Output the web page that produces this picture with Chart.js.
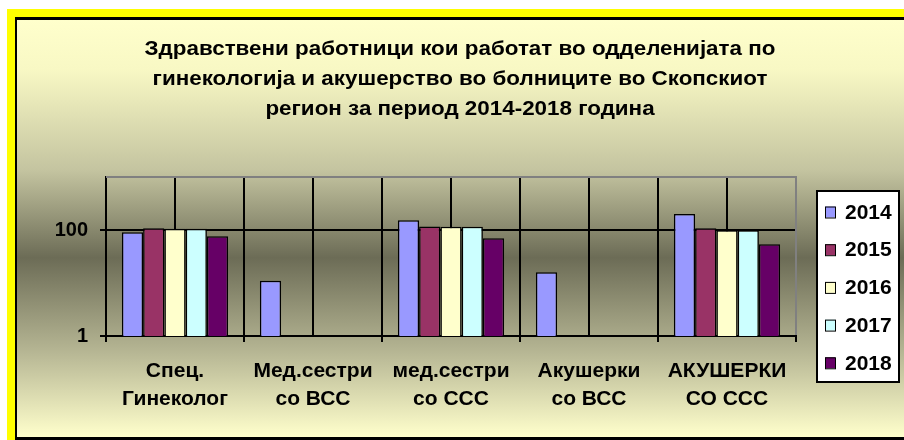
<!DOCTYPE html>
<html>
<head>
<meta charset="utf-8">
<script src="https://cdn.jsdelivr.net/npm/chart.js@4.4.1/dist/chart.umd.min.js"></script>
<style>
  body { margin: 0; background: #ffffff; }
  canvas { display: block; }
</style>
</head>
<body>
<canvas id="myChart" width="904" height="440"></canvas>
<script>
var titulo = [
  'Здравствени работници кои работат во одделенијата по',
  'гинекологија и акушерство во болниците во Скопскиот',
  'регион за период 2014-2018 година'
];
var categorias = [
  ['Спец.', 'Гинеколог'],
  ['Мед.сестри', 'со ВСС'],
  ['мед.сестри', 'со ССС'],
  ['Акушерки', 'со ВСС'],
  ['АКУШЕРКИ', 'СО ССС']
];
var anos = ['2014', '2015', '2016', '2017', '2018'];
var valores2014 = [91, 11, 152, 16, 200];
var valores2015 = [108, null, 117, null, 108];
var valores2016 = [106, null, 115, null, 99];
var valores2017 = [106, null, 115, null, 99];
var valores2018 = [76, null, 70, null, 54];
var ticksY = [1, 100];

var cores = ['#9999FF', '#993366', '#FFFFCC', '#CCFFFF', '#660066'];
var fonte = '"Liberation Sans", Arial, sans-serif';

// moldura amarela + fundo degradê
var fundoPlugin = {
  id: 'fundo',
  beforeDraw: function (chart) {
    var ctx = chart.ctx;
    ctx.save();
    ctx.fillStyle = '#ffffff';
    ctx.fillRect(0, 0, 904, 440);
    ctx.fillStyle = '#FFFF00';
    ctx.fillRect(7, 9, 897, 431);
    ctx.fillStyle = '#000000';
    ctx.fillRect(15, 17, 889, 423);
    var g = ctx.createLinearGradient(0, 20, 0, 437);
    g.addColorStop(0, '#FFFFCC');
    g.addColorStop(0.12, '#F8F8C4');
    g.addColorStop(0.36, '#C4C4A0');
    g.addColorStop(0.57, '#6C6C56');
    g.addColorStop(0.79, '#B4B492');
    g.addColorStop(1, '#FFFFCC');
    ctx.fillStyle = g;
    ctx.fillRect(17, 20, 887, 417);

    // titulo (texto um pouco esticado na horizontal, como no original)
    ctx.fillStyle = '#000000';
    ctx.font = 'bold 20px ' + fonte;
    ctx.textAlign = 'center';
    ctx.textBaseline = 'alphabetic';
    ctx.translate(460, 0);
    ctx.scale(1.12, 1);
    for (var i = 0; i < titulo.length; i++) {
      ctx.fillText(titulo[i], 0, 55 + i * 30);
    }
    ctx.restore();
  },
  beforeDatasetsDraw: function (chart) {
    // linhas verticais no meio de cada categoria
    var ctx = chart.ctx;
    var x = chart.scales.x;
    var area = chart.chartArea;
    ctx.save();
    ctx.strokeStyle = '#000000';
    ctx.lineWidth = 2;
    for (var i = 0; i < categorias.length; i++) {
      var px = Math.round(x.getPixelForValue(i));
      ctx.beginPath();
      ctx.moveTo(px, area.top);
      ctx.lineTo(px, area.bottom);
      ctx.stroke();
    }
    ctx.restore();
  },
  afterDraw: function (chart) {
    var ctx = chart.ctx;
    var area = chart.chartArea;
    ctx.save();
    // borda cinza da area do grafico
    ctx.strokeStyle = '#808080';
    ctx.lineWidth = 2;
    ctx.beginPath();
    ctx.moveTo(area.left, area.top);
    ctx.lineTo(area.right, area.top);
    ctx.lineTo(area.right, area.bottom - 1);
    ctx.stroke();

    // legenda
    ctx.fillStyle = '#ffffff';
    ctx.fillRect(817, 191, 82, 191);
    ctx.strokeStyle = '#000000';
    ctx.lineWidth = 2;
    ctx.strokeRect(817, 191, 82, 191);
    ctx.font = 'bold 21px ' + fonte;
    ctx.textAlign = 'left';
    ctx.textBaseline = 'middle';
    var ds = chart.data.datasets;
    for (var i = 0; i < ds.length; i++) {
      var cy = 212 + i * 37.7;
      ctx.fillStyle = ds[i].backgroundColor;
      ctx.fillRect(825, cy - 5.5, 10, 11);
      ctx.lineWidth = 1;
      ctx.strokeRect(825.5, cy - 5, 10, 11);
      ctx.fillStyle = '#000000';
      ctx.fillText(ds[i].label, 845, cy + 1);
    }
    ctx.restore();
  }
};

function montarDatasets() {
  var series = [valores2014, valores2015, valores2016, valores2017, valores2018];
  var lista = [];
  for (var i = 0; i < anos.length; i++) {
    lista.push({
      label: anos[i],
      data: series[i],
      backgroundColor: cores[i],
      borderColor: '#000000',
      borderWidth: 1.5,
      categoryPercentage: 0.77,
      barPercentage: 1.0
    });
  }
  return lista;
}

var ctx = document.getElementById('myChart');
var chart = new Chart(ctx, {
  type: 'bar',
  data: {
    labels: categorias,
    datasets: montarDatasets()
  },
  plugins: [fundoPlugin],
  options: {
    responsive: false,
    animation: false,
    layout: {
      padding: { left: 0, right: 108, top: 177, bottom: 0 }
    },
    plugins: {
      legend: { display: false },
      title: { display: false },
      tooltip: { enabled: false }
    },
    scales: {
      x: {
        afterFit: function (scale) { scale.height = 104; },
        grid: {
          offset: true,
          color: '#000000',
          lineWidth: 2,
          tickLength: 6
        },
        border: { display: true, color: '#000000', width: 2 },
        ticks: {
          color: '#000000',
          maxRotation: 0,
          autoSkip: false,
          padding: 15,
          font: { family: fonte, size: 21, weight: 'bold', lineHeight: 1.34 }
        }
      },
      y: {
        type: 'logarithmic',
        min: 1,
        max: 1000,
        afterFit: function (scale) { scale.width = 106; },
        afterBuildTicks: function (scale) {
          scale.ticks = ticksY.map(function (v) { return { value: v }; });
        },
        grid: {
          color: '#000000',
          lineWidth: 2,
          tickLength: 6
        },
        border: { display: true, color: '#000000', width: 2 },
        ticks: {
          color: '#000000',
          padding: 12,
          font: { family: fonte, size: 20, weight: 'bold' },
          callback: function (v) { return String(v); }
        }
      }
    }
  }
});
</script>
</body>
</html>
